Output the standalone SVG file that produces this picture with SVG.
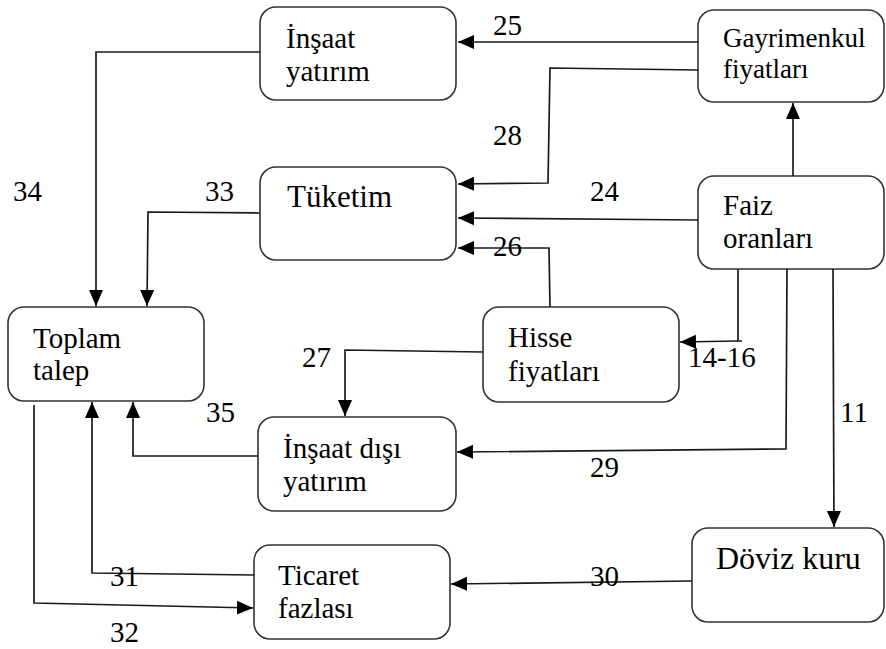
<svg xmlns="http://www.w3.org/2000/svg" width="886" height="649" viewBox="0 0 886 649">
  <style>
    .box { fill: #ffffff; stroke: #333333; stroke-width: 1.6; }
    text { font-family: 'Liberation Serif', 'Times New Roman', 'DejaVu Serif', serif; fill: #000000; }
    .lbl { font-size: 29px; }
    .big { font-size: 31px; }
    .xl { font-size: 32px; }
    .sm { font-size: 27px; }
    .num { font-size: 29px; }
    .wire { fill: none; stroke: #1a1a1a; stroke-width: 1.7; }
    .arr { marker-end: url(#head); }
  </style>
  <defs>
    <marker id="head" markerUnits="userSpaceOnUse" markerWidth="17" markerHeight="16" viewBox="0 0 17 16" refX="16" refY="8" orient="auto">
      <path d="M0,1 L16,8 L0,15 Z" fill="#000000"/>
    </marker>
  </defs>
  <rect width="886" height="649" fill="#ffffff"/>

  <!-- nodes -->
  <g id="insaat-yatirim">
    <rect class="box" x="260" y="7" width="196" height="93" rx="16"/>
    <text class="lbl" x="286" y="48">İnşaat</text>
    <text class="lbl" x="286" y="81">yatırım</text>
  </g>
  <g id="tuketim">
    <rect class="box" x="260" y="167" width="196" height="93" rx="16"/>
    <text class="lbl big" x="287" y="207">Tüketim</text>
  </g>
  <g id="gayrimenkul">
    <rect class="box" x="698" y="10" width="186" height="92" rx="16"/>
    <text class="lbl sm" x="723" y="47">Gayrimenkul</text>
    <text class="lbl sm" x="723" y="78">fiyatları</text>
  </g>
  <g id="faiz">
    <rect class="box" x="698" y="176" width="186" height="93" rx="16"/>
    <text class="lbl" x="723" y="215">Faiz</text>
    <text class="lbl" x="723" y="248">oranları</text>
  </g>
  <g id="toplam-talep">
    <rect class="box" x="8" y="307" width="196" height="94" rx="16"/>
    <text class="lbl" x="33" y="348">Toplam</text>
    <text class="lbl" x="33" y="380">talep</text>
  </g>
  <g id="hisse">
    <rect class="box" x="483" y="307" width="196" height="95" rx="16"/>
    <text class="lbl" x="508" y="347">Hisse</text>
    <text class="lbl" x="508" y="381">fiyatları</text>
  </g>
  <g id="insaat-disi">
    <rect class="box" x="258" y="417" width="198" height="94" rx="16"/>
    <text class="lbl" x="283" y="458">İnşaat dışı</text>
    <text class="lbl" x="283" y="491">yatırım</text>
  </g>
  <g id="ticaret">
    <rect class="box" x="254" y="545" width="196" height="94" rx="16"/>
    <text class="lbl" x="278" y="585">Ticaret</text>
    <text class="lbl" x="278" y="618">fazlası</text>
  </g>
  <g id="doviz">
    <rect class="box" x="692" y="528" width="192" height="94" rx="16"/>
    <text class="lbl xl" x="716" y="569">Döviz kuru</text>
  </g>

  <!-- connectors -->
  <g id="connectors">
    <path class="wire arr" d="M698,42 L458,42"/>
    <path class="wire arr" d="M698,70 L550,68 L548,183 L458,184"/>
    <path class="wire arr" d="M698,220 L458,218"/>
    <path class="wire arr" d="M550,307 L549,248 L458,248"/>
    <path class="wire arr" d="M793,176 L793,103"/>
    <path class="wire" d="M738,269 L738,341 L742,341"/>
    <path class="wire arr" d="M738,341 L680,342"/>
    <path class="wire arr" d="M787,269 L786,449 L457,452"/>
    <path class="wire arr" d="M833,269 L834,527"/>
    <path class="wire arr" d="M692,581 L451,584"/>
    <path class="wire arr" d="M483,352 L345,350 L345,416"/>
    <path class="wire arr" d="M258,456 L133,456 L133,402"/>
    <path class="wire arr" d="M254,575 L92,573 L92,402"/>
    <path class="wire arr" d="M34,405 L34,603 L253,608"/>
    <path class="wire arr" d="M260,52 L96,52 L96,306"/>
    <path class="wire arr" d="M260,213 L148,212 L147,306"/>
  </g>

  <!-- link labels -->
  <g id="labels">
    <text class="num" x="493" y="35">25</text>
    <text class="num" x="493" y="145">28</text>
    <text class="num" x="590" y="201">24</text>
    <text class="num" x="493" y="256">26</text>
    <text class="num" x="13" y="201">34</text>
    <text class="num" x="205" y="201">33</text>
    <text class="num" x="302" y="367">27</text>
    <text class="num" x="206" y="422">35</text>
    <text class="num" x="110" y="586">31</text>
    <text class="num" x="110" y="642">32</text>
    <text class="num" x="688" y="367">14-16</text>
    <text class="num" x="840" y="422">11</text>
    <text class="num" x="590" y="477">29</text>
    <text class="num" x="590" y="586">30</text>
  </g>
</svg>
